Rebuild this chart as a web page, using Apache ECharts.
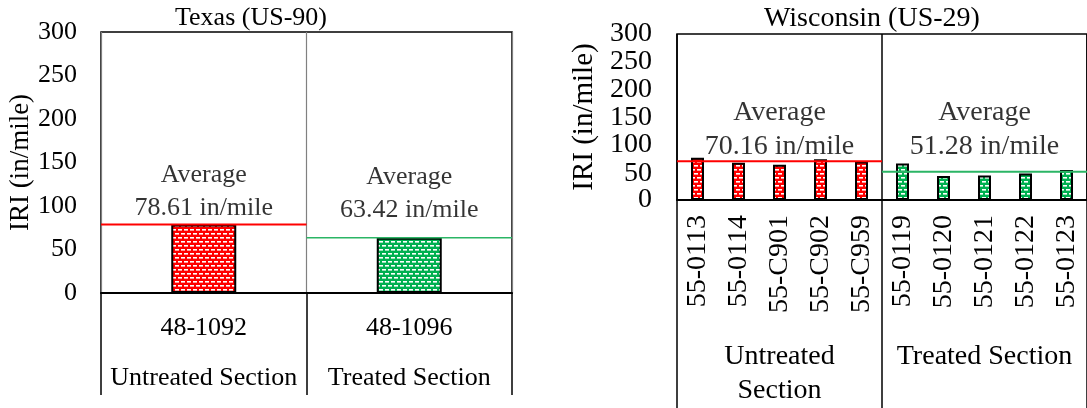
<!DOCTYPE html>
<html>
<head>
<meta charset="utf-8">
<script src="https://cdn.jsdelivr.net/npm/echarts@6/dist/echarts.min.js"></script>
<style>
html,body{margin:0;padding:0;background:#fff;}
#chart{width:1087px;height:408px;}
</style>
</head>
<body>
<div id="chart"></div>
<script>
// ---------- data ----------
const txTitle = 'Texas (US-90)';
const txSections = ['48-1092', '48-1096'];
const txGroups = ['Untreated Section', 'Treated Section'];
const txValues = [78.61, 63.42];
const txAverages = [78.61, 63.42];

const wiTitle = 'Wisconsin (US-29)';
const wiSections = ['55-0113', '55-0114', '55-C901', '55-C902', '55-C959',
                    '55-0119', '55-0120', '55-0121', '55-0122', '55-0123'];
const wiGroups = ['Untreated\nSection', 'Treated Section'];
const wiGroupOf = [0, 0, 0, 0, 0, 1, 1, 1, 1, 1];
const wiValues = [76.5, 67.5, 63.5, 73.5, 69.8, 66.0, 43.5, 44.5, 48.0, 54.4];
const wiAverages = [70.16, 51.28];

const yTicks = [0, 50, 100, 150, 200, 250, 300];
const yName = 'IRI (in/mile)';

// ---------- styling ----------
const FONT = 'Liberation Serif';
const RED = '#ff0000';
const GREEN = '#00b050';
const GREEN_LINE = '#2bb565';

function makePattern(base) {
  const c = document.createElement('canvas');
  c.width = 12; c.height = 8;
  const g = c.getContext('2d');
  g.fillStyle = base; g.fillRect(0, 0, 12, 8);
  g.fillStyle = '#ffffff';
  g.fillRect(1, 1, 4, 1.6); g.fillRect(7, 1, 4, 1.6);
  g.fillRect(-2, 5, 4, 1.6); g.fillRect(4, 5, 4, 1.6); g.fillRect(10, 5, 4, 1.6);
  return { image: c, repeat: 'repeat' };
}
const patterns = [makePattern(RED), makePattern(GREEN)];
const lineColors = [RED, GREEN_LINE];

const txt = (size) => ({ fontFamily: FONT, fontSize: size, color: '#000' });

const yMin = yTicks[0], yMax = yTicks[yTicks.length - 1], yStep = yTicks[1] - yTicks[0];

function yAxisFor(gridIndex, size, margin, nameGap, min, max, interval, withName) {
  const ax = {
    type: 'value', gridIndex, min, max, interval,
    axisLine: { show: false }, axisTick: { show: false }, splitLine: { show: false },
    axisLabel: Object.assign({ margin, showMinLabel: true, showMaxLabel: true }, txt(size))
  };
  if (withName) {
    Object.assign(ax, { name: yName, nameLocation: 'middle', nameRotate: 90, nameGap, nameTextStyle: txt(size + 1) });
  }
  return ax;
}

// Wisconsin plot geometry (px)
const wiTop = 34, wiHeight = 167, wiLeft = 677, wiWidth = 418;
const pxPerUnit = wiHeight / (yMax - yMin);
// odd ticks (50,150,250) are drawn on an overlay axis so the crowded labels are all kept
const oddTicks = yTicks.filter((t, i) => i % 2 === 1);
const oddMin = oddTicks[0], oddMax = oddTicks[oddTicks.length - 1];

const chart = echarts.init(document.getElementById('chart'), null, { renderer: 'canvas' });

const option = {
  animation: false,
  backgroundColor: '#fff',
  title: [
    { text: txTitle, left: 175, top: 5, padding: 0, textStyle: Object.assign({ fontWeight: 'normal' }, txt(26)) },
    { text: wiTitle, left: 764, top: 5, padding: 0, textStyle: Object.assign({ fontWeight: 'normal' }, txt(28)) }
  ],
  grid: [
    { left: 101, top: 32, width: 411, height: 261, show: true, borderColor: '#000', borderWidth: 1.5, backgroundColor: 'transparent' },
    { left: wiLeft, top: wiTop, width: wiWidth, height: wiHeight, show: true, borderColor: '#000', borderWidth: 1.5, backgroundColor: 'transparent' },
    { left: wiLeft, top: wiTop + (yMax - oddMax) * pxPerUnit, width: wiWidth,
      height: (oddMax - oddMin) * pxPerUnit, show: false }
  ],
  xAxis: [
    // Texas sections
    { type: 'category', gridIndex: 0, data: txSections, position: 'bottom',
      axisLine: { show: true, lineStyle: { color: '#000', width: 2 } },
      axisTick: { show: false }, splitLine: { show: false },
      axisLabel: Object.assign({ margin: 20, lineHeight: 30, interval: 0 }, txt(26)) },
    // Texas groups
    { type: 'category', gridIndex: 0, data: txGroups, position: 'bottom',
      axisLine: { show: false },
      axisTick: { show: true, interval: 0, length: 102, lineStyle: { color: '#000', width: 1.5 } },
      splitLine: { show: true, interval: 0, lineStyle: { color: '#808080', width: 1.2 } },
      axisLabel: Object.assign({ margin: 70, lineHeight: 30, interval: 0, hideOverlap: false }, txt(26)) },
    // Texas value axis for averages
    { type: 'value', gridIndex: 0, min: 0, max: txGroups.length, show: false },
    // Wisconsin sections
    { type: 'category', gridIndex: 1, data: wiSections, position: 'bottom',
      axisLine: { show: true, lineStyle: { color: '#000', width: 2 } },
      axisTick: { show: false }, splitLine: { show: false },
      axisLabel: Object.assign({ margin: 15, rotate: 90, interval: 0, hideOverlap: false }, txt(28)) },
    // Wisconsin groups
    { type: 'category', gridIndex: 1, data: wiGroups, position: 'bottom',
      axisLine: { show: false },
      axisTick: { show: true, interval: 0, length: 215, lineStyle: { color: '#000', width: 1.5 } },
      splitLine: { show: true, interval: 0, lineStyle: { color: '#000', width: 1.5 } },
      axisLabel: Object.assign({ margin: 140, lineHeight: 34, interval: 0, hideOverlap: false }, txt(28)) },
    // Wisconsin value axis for averages
    { type: 'value', gridIndex: 1, min: 0, max: wiSections.length, show: false },
    // overlay grid x axis (hidden)
    { type: 'value', gridIndex: 2, min: 0, max: 1, show: false }
  ],
  yAxis: [
    yAxisFor(0, 26, 24, 62, yMin, yMax, yStep, true),
    yAxisFor(1, 28, 25, 78, yMin, yMax, yStep * 2, true),
    yAxisFor(2, 28, 25, 78, oddMin, oddMax, yStep * 2, false)
  ],
  series: []
};

// Texas bars
option.series.push({
  type: 'bar', xAxisIndex: 0, yAxisIndex: 0, barWidth: 65,
  data: txValues.map((v, i) => ({ value: v, itemStyle: { color: patterns[i] } })),
  itemStyle: { borderColor: '#000', borderWidth: 2 }
});
// Wisconsin bars
option.series.push({
  type: 'bar', xAxisIndex: 3, yAxisIndex: 1, barWidth: 13,
  data: wiValues.map((v, i) => ({ value: v, itemStyle: { color: patterns[wiGroupOf[i]] } })),
  itemStyle: { borderColor: '#000', borderWidth: 2 }
});

// Average lines + labels
const txDist = [0, 11];
txAverages.forEach((a, g) => {
  option.series.push({
    type: 'line', xAxisIndex: 2, yAxisIndex: 0, symbol: 'none', silent: true, z: 5,
    data: [[g, a], [g + 1, a]], lineStyle: { color: lineColors[g], width: g === 0 ? 2 : 1.5 }
  });
  option.series.push({
    type: 'scatter', xAxisIndex: 2, yAxisIndex: 0, symbolSize: 0, silent: true, z: 6,
    data: [[g + 0.5, a]],
    label: Object.assign({ show: true, position: 'top', distance: txDist[g], lineHeight: 33, align: 'center',
      formatter: (p) => 'Average\n' + p.value[1].toFixed(2) + ' in/mile' }, txt(26))
  });
});
const wiDist = [-2, 8];
const per = wiSections.length / wiAverages.length;
wiAverages.forEach((a, g) => {
  option.series.push({
    type: 'line', xAxisIndex: 5, yAxisIndex: 1, symbol: 'none', silent: true, z: 5,
    data: [[g * per, a], [(g + 1) * per, a]], lineStyle: { color: lineColors[g], width: 2 }
  });
  option.series.push({
    type: 'scatter', xAxisIndex: 5, yAxisIndex: 1, symbolSize: 0, silent: true, z: 6,
    data: [[g * per + per / 2, a]],
    label: Object.assign({ show: true, position: 'top', distance: wiDist[g], lineHeight: 34, align: 'center',
      formatter: (p) => 'Average\n' + p.value[1].toFixed(2) + ' in/mile' }, txt(28))
  });
});

chart.setOption(option);
</script>
</body>
</html>
